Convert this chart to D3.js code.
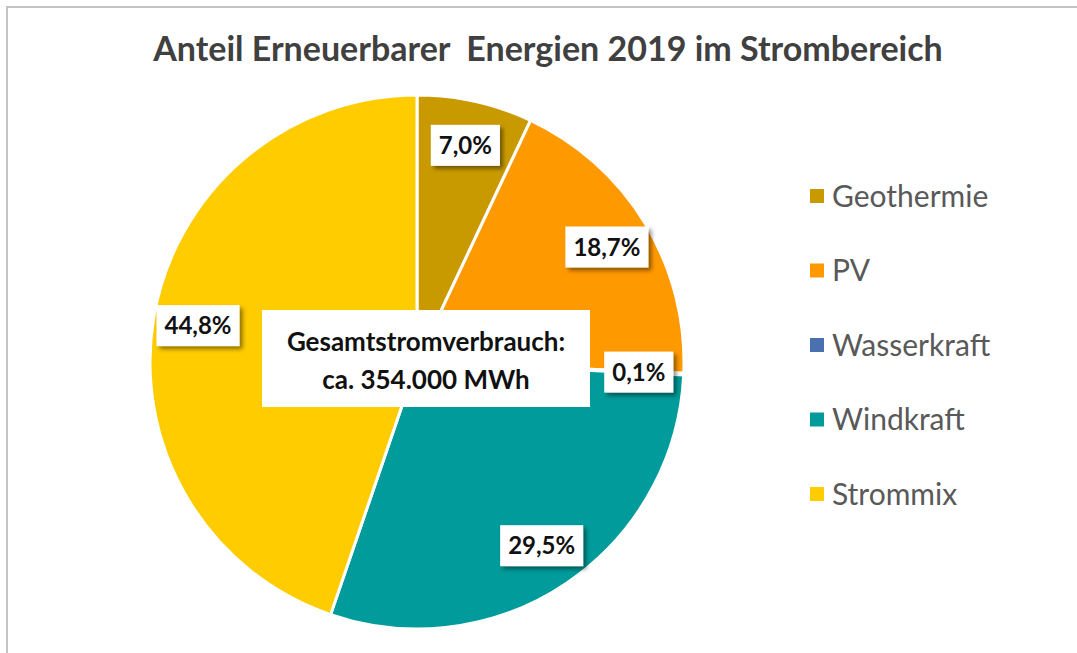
<!DOCTYPE html>
<html>
<head>
<meta charset="utf-8">
<script src="https://cdn.jsdelivr.net/npm/d3@7"></script>
<style>
  html, body { margin: 0; padding: 0; background: #fff; }
  svg { display: block; }
</style>
</head>
<body>
<div id="chart"></div>
<script>
const categories = ["Geothermie", "PV", "Wasserkraft", "Windkraft", "Strommix"];
const shares = [7.0, 18.7, 0.1, 29.5, 44.8];
const colors = ["#C99A00", "#FF9900", "#4A70B0", "#009B9A", "#FFCC00"];
const title = "Anteil Erneuerbarer  Energien 2019 im Strombereich";
const centerLines = ["Gesamtstromverbrauch:", "ca. 354.000 MWh"];

const width = 1077, height = 653;
const cx = 417, cy = 362, radius = 267;
const font = "Lato, 'Open Sans', sans-serif";

const svg = d3.select("#chart").append("svg")
    .attr("width", width)
    .attr("height", height);

const defs = svg.append("defs");
const shadow = defs.append("filter")
    .attr("id", "shadow")
    .attr("x", "-20%").attr("y", "-20%")
    .attr("width", "150%").attr("height", "160%");
shadow.append("feDropShadow")
    .attr("dx", 3).attr("dy", 3)
    .attr("stdDeviation", 2)
    .attr("flood-color", "#000")
    .attr("flood-opacity", 0.45);

// chart frame (only top and left edge are in view)
svg.append("path")
    .attr("d", `M7,${height} V7 H${width}`)
    .attr("fill", "none")
    .attr("stroke", "#c4c4c4")
    .attr("stroke-width", 2);

svg.append("text")
    .attr("x", 548)
    .attr("y", 61)
    .attr("text-anchor", "middle")
    .attr("font-family", font)
    .attr("font-weight", "bold")
    .attr("font-size", 34)
    .attr("fill", "#404040")
    .style("white-space", "pre")
    .text(title);

const color = d3.scaleOrdinal(categories, colors);
const data = categories.map((name, i) => ({ name, value: shares[i] }));

const pie = d3.pie()
    .sort(null)
    .value(d => d.value);

const arc = d3.arc()
    .innerRadius(0)
    .outerRadius(radius);

const labelArc = d3.arc()
    .innerRadius(222)
    .outerRadius(222);

const g = svg.append("g")
    .attr("transform", `translate(${cx},${cy})`);

g.selectAll("path")
  .data(pie(data))
  .join("path")
    .attr("d", arc)
    .attr("fill", d => color(d.data.name))
    .attr("stroke", "#fff")
    .attr("stroke-width", 3)
    .attr("stroke-linejoin", "round");

// percentage labels in white boxes
const fmt = v => v.toFixed(1).replace(".", ",") + "%";
const labels = g.append("g")
  .selectAll("g")
  .data(pie(data))
  .join("g")
    .attr("transform", d => `translate(${labelArc.centroid(d)})`);

labels.each(function(d) {
    const sel = d3.select(this);
    const t = sel.append("text")
        .attr("text-anchor", "middle")
        .attr("dy", "0.36em")
        .attr("font-family", font)
        .attr("font-weight", "bold")
        .attr("font-size", 24)
        .attr("fill", "#111")
        .text(fmt(d.data.value));
    const w = t.node().getComputedTextLength() + 16;
    const h = 41;
    sel.insert("rect", "text")
        .attr("x", -w / 2)
        .attr("y", -h / 2)
        .attr("width", w)
        .attr("height", h)
        .attr("fill", "#fff")
        .attr("filter", "url(#shadow)");
});

// centre note
const note = svg.append("g")
    .attr("transform", "translate(426,358)");
note.append("rect")
    .attr("x", -164).attr("y", -48)
    .attr("width", 328).attr("height", 97)
    .attr("fill", "#fff");
note.selectAll("text")
  .data(centerLines)
  .join("text")
    .attr("text-anchor", "middle")
    .attr("y", (d, i) => -16 + i * 38)
    .attr("dy", "0.36em")
    .attr("font-family", font)
    .attr("font-weight", "bold")
    .attr("font-size", 26)
    .attr("fill", "#111")
    .text(d => d);

// legend
const legendY = d3.scalePoint()
    .domain(categories)
    .range([196, 494]);

const legend = svg.append("g")
  .selectAll("g")
  .data(categories)
  .join("g")
    .attr("transform", d => `translate(810,${legendY(d)})`);

legend.append("rect")
    .attr("x", 0).attr("y", -7)
    .attr("width", 14).attr("height", 14)
    .attr("fill", d => color(d));

legend.append("text")
    .attr("x", 22)
    .attr("dy", "0.36em")
    .attr("font-family", font)
    .attr("font-size", 30)
    .attr("fill", "#595959")
    .text(d => d);
</script>
</body>
</html>
